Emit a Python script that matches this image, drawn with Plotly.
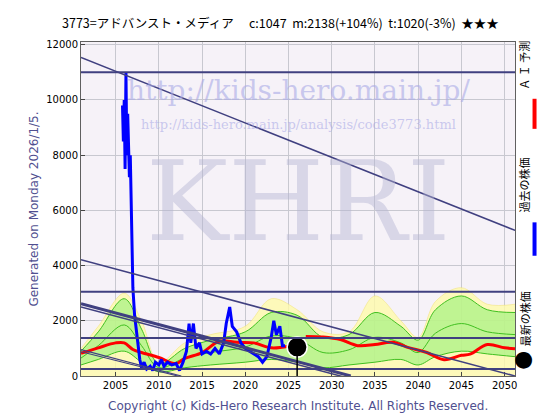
import plotly.graph_objects as go

blue_x = [2005.8,2005.9,2006.0,2006.1,2006.2,2006.3,2006.4,2006.5,2006.6,2006.7,2006.8,2006.9,2007.0,2007.2,2007.4,2007.6,2007.8,2008.0,2008.3,2008.6,2009.0,2009.3,2009.6,2010.0,2010.3,2010.6,2011.0,2011.5,2012.0,2012.4,2012.8,2013.2,2013.5,2013.7,2014.0,2014.3,2014.7,2015.0,2015.5,2016.0,2016.5,2017.0,2017.5,2017.8,2018.2,2018.5,2019.0,2019.5,2020.0,2020.5,2021.0,2021.5,2022.0,2022.5,2023.0,2023.3,2023.6,2024.0,2024.3,2024.6]
blue_y = [9800,8500,10000,7500,11000,8000,9500,8500,7200,8000,6500,4500,3200,2200,1600,1000,600,300,500,250,350,200,500,400,600,350,500,400,450,200,500,900,1900,1200,1900,1000,1200,800,900,800,1000,800,1200,1900,2500,1800,1600,1200,1000,900,800,700,500,700,1400,2000,1500,1800,1100,1100]

red_x1 = [2001,2003,2005,2006,2007,2008,2010,2012,2013,2015,2017,2019,2021,2023,2025]
red_y1 = [820,1020,1200,1200,960,850,670,450,635,850,1260,1220,1200,1020,1080]
red_x2 = [2027,2029,2031,2033,2035,2037,2039,2041,2043,2045,2046,2048,2050,2051.2]
red_y2 = [1435,1410,1320,1100,1140,1220,1020,850,590,750,790,1140,1020,990]

band_x = [2001,2003,2006,2008,2010,2013,2016,2020,2023,2026,2029,2032,2035,2038,2040,2042,2045,2048,2051.2]
yellow_up = [1000,1800,3000,2000,500,1200,1500,1800,2800,2400,1600,1600,2900,2000,1400,2700,3200,2600,2600]
green_up = [900,1600,2800,1700,450,1000,1300,1600,2300,2200,1400,1500,2300,1800,1300,2400,2900,2400,2300]
green_lo = [400,600,900,500,150,300,400,500,600,500,300,400,500,600,400,700,900,800,700]

latest_x = [2026.0]
latest_y = [1047]

hlines = [11000, 3050, 1380, 250]
diag = [((2001,11540),(2051.2,5275)),((2001,4210),(2051.2,0)),((2001,2620),(2032.2,0)),((2001,2500),(2032.2,-100)),((2001,955),(2012.6,0)),((2001,880),(2012.2,0))]
diag_w = [1.5,1.5,3,1.5,1.2,1.2]

fig = go.Figure()
fig.add_trace(go.Scatter(x=band_x, y=yellow_up, mode="lines", line=dict(color="#f0e070", width=0.5, shape="spline"), fill="tozeroy", fillcolor="rgba(255,250,170,0.8)"))
fig.add_trace(go.Scatter(x=band_x, y=green_lo, mode="lines", line=dict(color="#40c020", width=1, shape="spline")))
fig.add_trace(go.Scatter(x=band_x, y=green_up, mode="lines", line=dict(color="#40c020", width=1, shape="spline"), fill="tonexty", fillcolor="rgba(150,240,120,0.6)"))
mid = [(a+b)/2 for a, b in zip(green_up, green_lo)]
fig.add_trace(go.Scatter(x=band_x, y=mid, mode="lines", line=dict(color="#40c020", width=1, shape="spline")))

for y in hlines:
    fig.add_shape(type="line", x0=2001, x1=2051.2, y0=y, y1=y, line=dict(color="#404080", width=2))
for ((x0,y0),(x1,y1)),w in zip(diag, diag_w):
    fig.add_shape(type="line", x0=x0, x1=x1, y0=y0, y1=y1, line=dict(color="#404080", width=w))

fig.add_trace(go.Scatter(x=red_x1, y=red_y1, mode="lines", line=dict(color="red", width=3, shape="spline")))
fig.add_trace(go.Scatter(x=red_x2, y=red_y2, mode="lines", line=dict(color="red", width=3, shape="spline")))
fig.add_trace(go.Scatter(x=blue_x, y=blue_y, mode="lines", line=dict(color="#0000ff", width=3)))
fig.add_shape(type="line", x0=latest_x[0], x1=latest_x[0], y0=0, y1=latest_y[0], line=dict(color="black", width=1.5))
fig.add_trace(go.Scatter(x=latest_x, y=latest_y, mode="markers", marker=dict(color="black", size=20, line=dict(color="white", width=1.5))))

# watermarks
fig.add_annotation(x=0.5, y=0.91, xref="paper", yref="paper", text="http://kids-hero.main.jp/", showarrow=False, font=dict(family="DejaVu Serif", size=28, color="rgba(170,170,230,0.6)"))
fig.add_annotation(x=0.5, y=0.78, xref="paper", yref="paper", text="http://kids-hero.main.jp/analysis/code3773.html", showarrow=False, font=dict(family="DejaVu Serif", size=13, color="rgba(170,170,230,0.6)"))
fig.add_annotation(x=0.5, y=0.52, xref="paper", yref="paper", text="KHRI", showarrow=False, font=dict(family="DejaVu Serif", size=110, color="rgba(180,180,210,0.45)"))

fig.add_annotation(x=0.46, y=1.0, xref="paper", yref="paper", yanchor="bottom", yshift=8, text="3773=アドバンスト・メディア　 c:1047  m:2138(+104%)  t:1020(-3%)  ★★★", showarrow=False, font=dict(family="Noto Sans CJK JP", size=12.5, color="black"))
fig.add_annotation(x=0.5, y=0, xref="paper", yref="paper", yanchor="middle", yshift=-30, text="Copyright (c) Kids-Hero Research Institute. All Rights Reserved.", showarrow=False, font=dict(family="DejaVu Sans", size=12, color="#505090"))

# legend on right
lx = 1.045
fig.add_annotation(x=lx, y=1.01, xref="paper", yref="paper", yanchor="top", text="Ａ Ｉ 予測", textangle=-90, showarrow=False, font=dict(family="Noto Sans CJK JP", size=11, color="black"))
fig.add_shape(type="line", xref="paper", yref="paper", x0=lx, x1=lx, y0=0.83, y1=0.74, line=dict(color="red", width=4))
fig.add_annotation(x=lx, y=0.66, xref="paper", yref="paper", yanchor="top", text="過去の株価", textangle=-90, showarrow=False, font=dict(family="Noto Sans CJK JP", size=11, color="black"))
fig.add_shape(type="line", xref="paper", yref="paper", x0=lx, x1=lx, y0=0.46, y1=0.36, line=dict(color="blue", width=4))
fig.add_annotation(x=lx, y=0.26, xref="paper", yref="paper", yanchor="top", text="最新の株価", textangle=-90, showarrow=False, font=dict(family="Noto Sans CJK JP", size=11, color="black"))
fig.add_annotation(x=lx, y=0.01, xref="paper", yref="paper", text="●", showarrow=False, font=dict(size=22, color="black"))

fig.update_layout(width=560, height=420, margin=dict(l=73, r=53, t=34, b=52), showlegend=False,
                  paper_bgcolor="white", plot_bgcolor="#f6f2f8",
                  font=dict(family="DejaVu Sans", size=10, color="black"))
fig.update_xaxes(range=[2001, 2051.2], tickvals=list(range(2005, 2051, 5)), showgrid=True, gridcolor="#c8c8d0", gridwidth=1,
                 showline=True, linecolor="#606060", mirror=True, ticks="inside", ticklen=4, zeroline=False)
fig.update_yaxes(range=[0, 12100], tickvals=list(range(0, 12001, 2000)), ticktext=[str(v) for v in range(0, 12001, 2000)],
                 showgrid=True, gridcolor="#c8c8d0",
                 showline=True, linecolor="#606060", mirror=True, ticks="inside", ticklen=4, zeroline=False,
                 title=dict(text="Generated on Monday 2026/1/5.", font=dict(color="#505090", size=12), standoff=4))
fig.write_html("out.html")
